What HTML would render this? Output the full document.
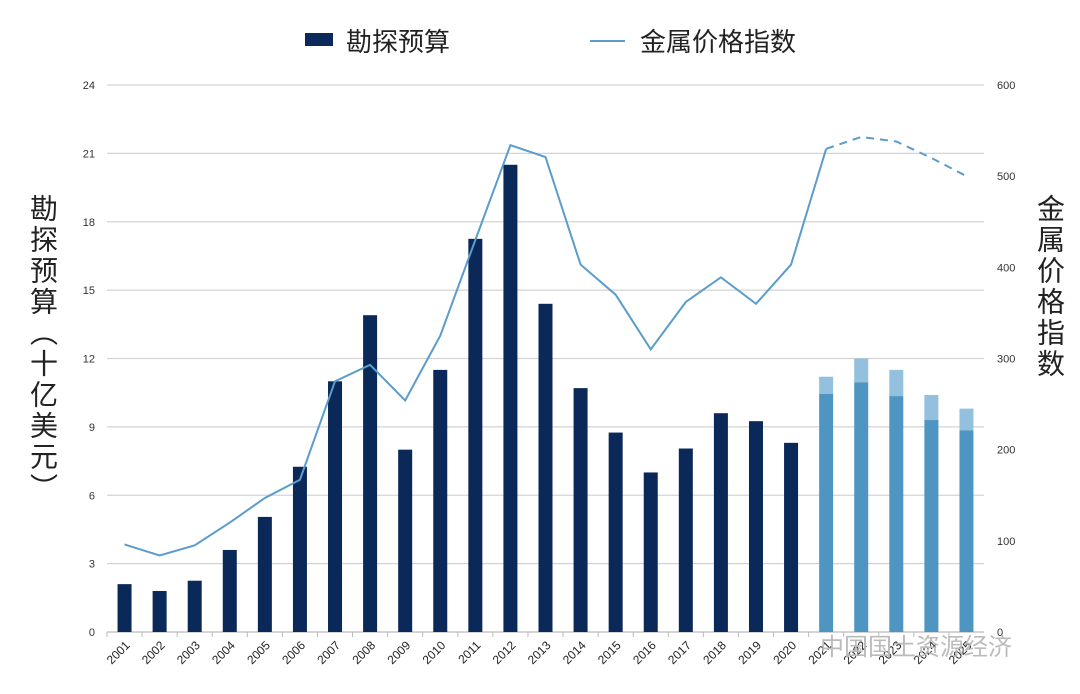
<!DOCTYPE html>
<html><head><meta charset="utf-8"><style>
body{margin:0;background:#fff;position:relative;width:1080px;height:694px;overflow:hidden;}
svg{display:block;font-family:"Liberation Sans","Noto Sans CJK SC",sans-serif;}
.vt{position:absolute;writing-mode:vertical-rl;font-family:"Liberation Sans","Noto Sans CJK SC",sans-serif;font-size:28px;color:#222;line-height:1;}
</style></head><body>
<svg id="chart" width="1080" height="694">
<rect x="0" y="0" width="1080" height="694" fill="#fff"/>
<g id="grid"></g>
<g id="bars"></g>
<g id="line"></g>
<g id="axes"></g>
<g>
<rect x="305" y="33" width="28" height="13" fill="#0b2a5b"/>
<text x="346" y="51" font-size="26" fill="#222">勘探预算</text>
<line x1="590" y1="41" x2="625" y2="41" stroke="#5b9ccb" stroke-width="2"/>
<text x="640" y="51" font-size="26" fill="#222">金属价格指数</text>
</g>
<text x="820" y="655" font-size="24" fill="#bbb">中国国土资源经济</text>
</svg>
<div class="vt" style="left:28px;top:194px;letter-spacing:3px;">勘探预算（十亿美元）</div>
<div class="vt" style="left:1035px;top:194px;letter-spacing:3px;">金属价格指数</div>
<script>
const years=["2001","2002","2003","2004","2005","2006","2007","2008","2009","2010","2011","2012","2013","2014","2015","2016","2017","2018","2019","2020","2021","2022","2023","2024","2025"];
const budget=[2.1,1.8,2.25,3.6,5.05,7.25,11.0,13.9,8.0,11.5,17.25,20.5,14.4,10.7,8.75,7.0,8.05,9.6,9.25,8.3,10.45,10.95,10.35,9.3,8.85];
const budgetHigh=[null,null,null,null,null,null,null,null,null,null,null,null,null,null,null,null,null,null,null,null,11.2,12.0,11.5,10.4,9.8];
const priceIndex=[96,84,95,120,147,167,275,293,254,325,430,534,521,403,370,310,362,389,360,403,530,543,538,520,500];
const leftTicks=[0,3,6,9,12,15,18,21,24];
const rightTicks=[0,100,200,300,400,500,600];
const forecastStart=20;
const NS="http://www.w3.org/2000/svg";
const X0=107,X1=984,Y0=632,Y1=85;
const step=(X1-X0)/years.length;
const xc=i=>X0+step*(i+0.5);
const yL=v=>Y0-(v/24)*(Y0-Y1);
const yR=v=>Y0-(v/600)*(Y0-Y1);
function mk(t,a,p){const e=document.createElementNS(NS,t);for(const k in a)e.setAttribute(k,a[k]);p.appendChild(e);return e;}
const grid=document.getElementById('grid'),bars=document.getElementById('bars'),line=document.getElementById('line'),axes=document.getElementById('axes');
leftTicks.forEach(v=>{
 const g=mk('line',{x1:X0,x2:X1,y1:yL(v),y2:yL(v),stroke:v===0?'#bbb':'#d4d4d4','stroke-width':1.3},grid);
 
 
 const t=mk('text',{x:95,y:yL(v)+4,'font-size':11,fill:'#333','text-anchor':'end'},axes);
 t.textContent=v;
 
 
});
rightTicks.forEach(v=>{
 const t=mk('text',{x:997,y:yR(v)+4,'font-size':11,fill:'#333'},axes);
 t.textContent=v;
 
 
});
years.forEach((y,i)=>{
 const w=14,x=xc(i)-w/2;
 if(budgetHigh[i]!=null){
  const r2=mk('rect',{x:x,y:yL(budgetHigh[i]),width:w,height:yL(budget[i])-yL(budgetHigh[i]),fill:'#93c0dc'},bars);
  
  
 }
 const r=mk('rect',{x:x,y:yL(budget[i]),width:w,height:Y0-yL(budget[i]),fill:i>=forecastStart?'#4f95c2':'#0a2858'},bars);
 
 
 const tk=mk('line',{x1:X0+step*i,x2:X0+step*i,y1:Y0,y2:Y0+5,stroke:'#bbb'},axes);
 
 
 const tx=xc(i)+6,ty=Y0+14;
 const t=mk('text',{x:tx,y:ty,'font-size':12,fill:'#222','text-anchor':'end',transform:`rotate(-45 ${tx} ${ty})`},axes);
 t.textContent=y;
 
 
});
const solid=priceIndex.slice(0,forecastStart+1).map((v,i)=>`${xc(i)},${yR(v)}`).join(' ');
const dash=priceIndex.map((v,i)=>i>=forecastStart?`${xc(i)},${yR(v)}`:null).filter(Boolean).join(' ');
const p1=mk('polyline',{points:solid,fill:'none',stroke:'#5b9ccb','stroke-width':2},line);


const p2=mk('polyline',{points:dash,fill:'none',stroke:'#5b9ccb','stroke-width':2,'stroke-dasharray':'8,6'},line);


</script>
</body></html>
